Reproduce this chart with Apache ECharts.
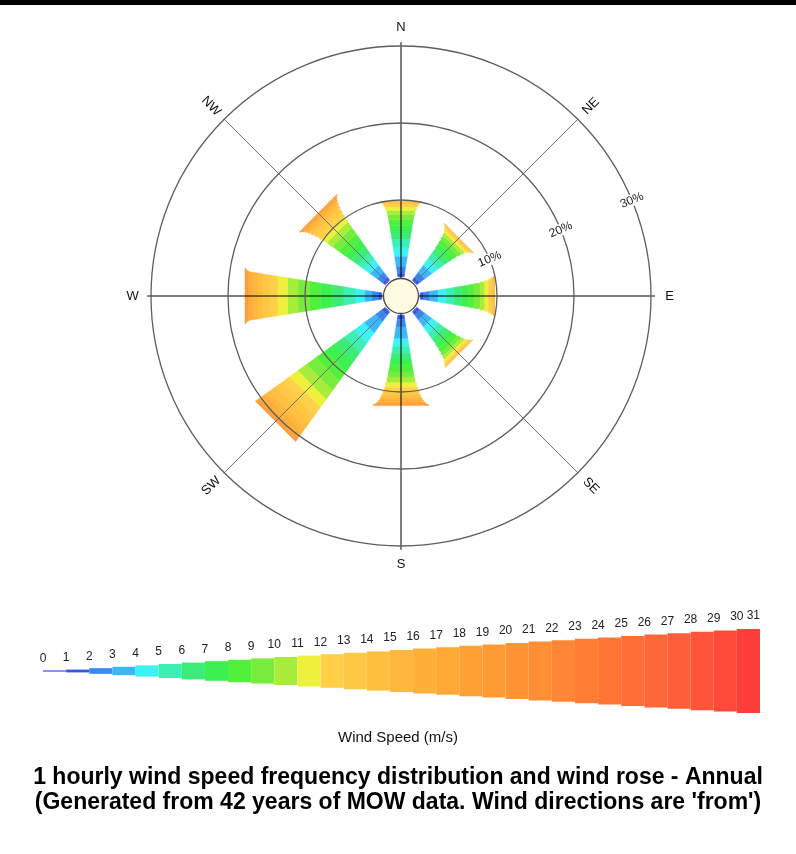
<!DOCTYPE html>
<html>
<head>
<meta charset="utf-8">
<title>Wind rose - Annual</title>
<script src="https://cdn.jsdelivr.net/npm/echarts@6/dist/echarts.min.js"></script>
<style>
  html, body { margin: 0; padding: 0; background: #fff; }
  #chart { width: 796px; height: 854px; }
</style>
</head>
<body>
<div id="chart"></div>
<script>
// wind rose, frequency (%) per 1 m/s speed bin (bin k = k .. k+1 m/s), "from" directions
const directions = ["N", "NE", "E", "SE", "S", "SW", "W", "NW"];
const bearings = [0, 45, 90, 135, 180, 225, 270, 315];

const freqN  = [0.1, 0.4, 0.9, 1.3, 1.2, 1.0, 0.95, 0.85, 0.75, 0.65, 0.55, 0.45, 0.3, 0.2, 0.12, 0.1];
const freqNE = [0.1, 0.4, 0.85, 1.1, 1.0, 0.9, 0.8, 0.7, 0.6, 0.5, 0.4, 0.3, 0.22, 0.14, 0.09, 0.06];
const freqE  = [0.1, 0.35, 0.8, 1.1, 1.1, 1.0, 0.95, 0.9, 0.8, 0.7, 0.6, 0.5, 0.35, 0.22, 0.14, 0.09];
const freqSE = [0.1, 0.4, 0.85, 1.1, 1.0, 0.9, 0.8, 0.7, 0.6, 0.5, 0.4, 0.32, 0.24, 0.16, 0.1];
const freqS  = [0.1, 0.45, 1.0, 1.55, 1.0, 0.9, 0.85, 0.75, 0.8, 0.75, 0.65, 0.6, 0.5, 0.45, 0.38, 0.3, 0.24, 0.18, 0.13, 0.09, 0.06];
const freqSW = [0.1, 0.45, 1.05, 1.8, 1.6, 1.5, 1.5, 1.5, 1.5, 1.5, 1.4, 1.3, 1.2, 1.05, 0.9, 0.7, 0.55, 0.4, 0.28, 0.18, 0.11];
const freqW  = [0.1, 0.4, 0.8, 1.0, 1.2, 1.45, 1.5, 1.5, 1.5, 1.45, 1.35, 1.3, 1.0, 0.85, 0.7, 0.55, 0.42, 0.3, 0.2, 0.13, 0.08];
const freqNW = [0.1, 0.4, 0.85, 1.1, 1.0, 0.95, 1.0, 1.0, 1.0, 0.95, 0.9, 0.8, 0.65, 0.55, 0.45, 0.35, 0.27, 0.2, 0.14, 0.09];
const petals = [freqN, freqNE, freqE, freqSE, freqS, freqSW, freqW, freqNW];

const ringTicks = [10, 20, 30];
const ringLabels = ["10%", "20%", "30%"];
const speedLabels = ["0", "1", "2", "3", "4", "5", "6", "7", "8", "9", "10", "11", "12", "13", "14", "15",
  "16", "17", "18", "19", "20", "21", "22", "23", "24", "25", "26", "27", "28", "29", "30", "31"];

// colour per speed bin
const binColors = [
  "#6a6aff", "#3355e6", "#3a86f2", "#3ab8fa", "#3cf2f2", "#3cf0b4", "#3ceb78", "#3cf050",
  "#50f03c", "#78ec3c", "#a8ec3c", "#eef03c", "#ffd048", "#ffc844", "#ffc040", "#ffb83c",
  "#ffb038", "#ffa836", "#ffa034", "#ff9a34", "#ff9434", "#ff8e34", "#ff8634", "#ff7e34",
  "#ff7634", "#ff6e36", "#ff6638", "#ff5e3a", "#ff543a", "#ff4a3a", "#ff3e3a"
];

// thickness in px grows with speed, same rule for petals and key
const binWidth = k => (k === 0 ? 1.5 : 2.8 * k);
// petals are at least a wedge of this half-slope
const WEDGE = 0.16;

const LINE_END_CARD = 30.5;
const LINE_END_DIAG = 30.1;
const DIR_LABEL_R = 32.4;
const RING_LABEL_BEARING = 67.5;
const FONT = "Liberation Sans, Arial, sans-serif";

// petal segments: [from %, to %, bearing, bin]
const segments = [];
petals.forEach((freq, d) => {
  let cum = 0;
  freq.forEach((f, k) => {
    segments.push([cum, cum + f, bearings[d], k]);
    cum += f;
  });
});

const chart = echarts.init(document.getElementById("chart"), null, { renderer: "canvas" });

function petalItem(params, api) {
  const cs = params.coordSys;
  const b = api.value(2), k = api.value(3);
  const p0 = api.coord([api.value(0), b]);
  const p1 = api.coord([api.value(1), b]);
  const d0 = Math.hypot(p0[0] - cs.cx, p0[1] - cs.cy);
  const d1 = Math.hypot(p1[0] - cs.cx, p1[1] - cs.cy) || 1;
  const ux = (p1[0] - cs.cx) / d1, uy = (p1[1] - cs.cy) / d1;
  const hw0 = Math.max(binWidth(k) / 2, d0 * WEDGE);
  const hw1 = Math.max(binWidth(k) / 2, d1 * WEDGE);
  return {
    type: "polygon",
    shape: { points: [
      [p0[0] - uy * hw0, p0[1] + ux * hw0], [p1[0] - uy * hw1, p1[1] + ux * hw1],
      [p1[0] + uy * hw1, p1[1] - ux * hw1], [p0[0] + uy * hw0, p0[1] - ux * hw0]
    ] },
    style: { fill: binColors[k], stroke: binColors[k], lineWidth: 0.5 }
  };
}

function lineItem(params, api) {
  const b = api.value(0);
  const card = b % 90 === 0;
  const p1 = api.coord([card ? LINE_END_CARD : LINE_END_DIAG, b]);
  const cs = params.coordSys;
  return {
    type: "line",
    shape: { x1: cs.cx, y1: cs.cy, x2: p1[0], y2: p1[1] },
    style: { stroke: card ? "#000" : "#707070", lineWidth: 1 }
  };
}

function ringItem(params, api) {
  const cs = params.coordSys;
  const p = api.coord([api.value(0), 0]);
  return {
    type: "circle",
    shape: { cx: cs.cx, cy: cs.cy, r: Math.hypot(p[0] - cs.cx, p[1] - cs.cy) },
    style: { fill: null, stroke: "#5e5e5e", lineWidth: 1.3 }
  };
}

function calmItem(params, api) {
  const cs = params.coordSys;
  const p = api.coord([0, 0]);
  return {
    type: "circle",
    shape: { cx: cs.cx, cy: cs.cy, r: Math.hypot(p[0] - cs.cx, p[1] - cs.cy) - 1.5 },
    style: { fill: "#fffbe3", stroke: "#4a4a4a", lineWidth: 1.3 }
  };
}

function dirLabelItem(params, api) {
  const i = params.dataIndex;
  const b = bearings[i];
  const p = api.coord([DIR_LABEL_R, b]);
  let rot = 0;
  if (b === 45 || b === 225) rot = Math.PI / 4;
  if (b === 135 || b === 315) rot = -Math.PI / 4;
  return {
    type: "text", x: p[0], y: p[1], rotation: rot,
    style: { text: directions[i], fill: "#111", font: "13px " + FONT, align: "center", verticalAlign: "middle" }
  };
}

function ringLabelItem(params, api) {
  const i = params.dataIndex;
  const p = api.coord([ringTicks[i], RING_LABEL_BEARING]);
  return {
    type: "text", x: p[0], y: p[1], rotation: Math.PI / 8,
    style: { text: ringLabels[i], fill: "#222", font: "12px " + FONT, align: "center", verticalAlign: "middle",
      backgroundColor: "#fff", padding: [0, 1] }
  };
}

function keyBarItem(params, api) {
  const k = api.value(0);
  const h = binWidth(k) / 2;
  const p0 = api.coord([k, h]);
  const p1 = api.coord([k + 1, -h]);
  return {
    type: "rect",
    shape: { x: p0[0], y: p0[1], width: p1[0] - p0[0], height: p1[1] - p0[1] },
    style: { fill: binColors[k] }
  };
}

function keyLabelItem(params, api) {
  const k = api.value(0);
  const p = api.coord([k, binWidth(k) / 2]);
  const last = k === speedLabels.length - 1;
  return {
    type: "text", x: p[0], y: p[1] - 12,
    style: { text: speedLabels[k], fill: "#222", font: "12px " + FONT,
      align: last ? "right" : "center", verticalAlign: "middle" }
  };
}

const option = {
  backgroundColor: "#fff",
  animation: false,
  title: [
    {
      text: "Wind Speed (m/s)", left: "center", top: 725,
      textStyle: { fontSize: 15, fontWeight: "normal", color: "#111", fontFamily: FONT }
    },
    {
      text: "1 hourly wind speed frequency distribution and wind rose - Annual\n(Generated from 42 years of MOW data. Wind directions are 'from')",
      left: "center", top: 760,
      textStyle: { fontSize: 23, fontWeight: "bold", color: "#000", lineHeight: 25, fontFamily: FONT }
    }
  ],
  graphic: [
    { type: "rect", left: 0, top: 0, shape: { width: 796, height: 5 }, style: { fill: "#000" } }
  ],
  polar: { center: [401, 296], radius: [19, 250] },
  angleAxis: {
    type: "value", min: 0, max: 360, startAngle: 90, clockwise: true,
    axisLine: { show: false }, axisTick: { show: false }, axisLabel: { show: false }, splitLine: { show: false }
  },
  radiusAxis: {
    type: "value", min: 0, max: 30, interval: 10,
    axisLine: { show: false }, axisTick: { show: false }, axisLabel: { show: false }, splitLine: { show: false }
  },
  grid: { left: 43, width: 717, top: 621, height: 100 },
  xAxis: { type: "value", min: 0, max: 31, show: false },
  yAxis: { type: "value", min: -50, max: 50, show: false },
  series: [
    {
      type: "custom", coordinateSystem: "polar", renderItem: petalItem,
      dimensions: ["from", "to", "bearing", "bin"], encode: { radius: 1, angle: 2 },
      data: segments, silent: true
    },
    {
      type: "custom", coordinateSystem: "polar", renderItem: lineItem,
      dimensions: ["bearing", "r"], encode: { angle: 0, radius: 1 },
      data: bearings.map(b => [b, 0]), silent: true
    },
    {
      type: "custom", coordinateSystem: "polar", renderItem: ringItem,
      dimensions: ["r", "a"], encode: { radius: 0, angle: 1 },
      data: ringTicks.map(t => [t, 0]), silent: true
    },
    {
      type: "custom", coordinateSystem: "polar", renderItem: calmItem,
      dimensions: ["r", "a"], encode: { radius: 0, angle: 1 },
      data: [[0, 0]], silent: true
    },
    {
      type: "custom", coordinateSystem: "polar", renderItem: dirLabelItem,
      dimensions: ["bearing", "r"], encode: { angle: 0, radius: 1 },
      data: bearings.map(b => [b, 0]), silent: true
    },
    {
      type: "custom", coordinateSystem: "polar", renderItem: ringLabelItem,
      dimensions: ["r", "a"], encode: { radius: 0, angle: 1 },
      data: ringTicks.map(t => [t, 0]), silent: true
    },
    {
      type: "custom", coordinateSystem: "cartesian2d", renderItem: keyBarItem,
      encode: { x: 0, y: 1 },
      data: binColors.map((c, k) => [k, 0]), silent: true
    },
    {
      type: "custom", coordinateSystem: "cartesian2d", renderItem: keyLabelItem,
      encode: { x: 0, y: 1 },
      data: speedLabels.map((s, k) => [k, 0]), silent: true
    }
  ]
};

chart.setOption(option);
window.addEventListener("resize", () => chart.resize());
</script>
</body>
</html>
